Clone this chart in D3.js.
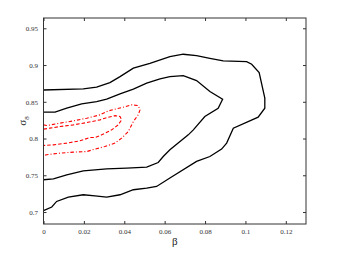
<!DOCTYPE html>
<html><head><meta charset="utf-8">
<script src="https://cdn.jsdelivr.net/npm/d3@7"></script>
<style>html,body{margin:0;padding:0;background:#fff;}svg{display:block;} text{-webkit-font-smoothing:antialiased;}</style>
</head><body>
<script>
const xTicks = [0, 0.02, 0.04, 0.06, 0.08, 0.1, 0.12];
const xTickLabels = ["0", "0.02", "0.04", "0.06", "0.08", "0.1", "0.12"];
const yTicks = [0.7, 0.75, 0.8, 0.85, 0.9, 0.95];
const yTickLabels = ["0.7", "0.75", "0.8", "0.85", "0.9", "0.95"];

// black 95% contour [beta, sigma8]
const black95 = [
 [0,0.866],[0.0197,0.8675],[0.0263,0.8698],[0.0329,0.8761],[0.0379,0.8842],[0.0445,0.8957],
 [0.0527,0.9024],[0.0626,0.9114],[0.0692,0.9147],[0.0758,0.9128],[0.0824,0.9092],[0.089,0.9056],
 [0.1006,0.9046],[0.1031,0.9011],[0.1068,0.8897],[0.1096,0.8549],[0.1096,0.8413],[0.1063,0.8291],
 [0.094,0.8141],[0.0907,0.7938],[0.0882,0.7856],[0.0824,0.7755],[0.0758,0.7688],[0.0626,0.7462],
 [0.056,0.7348],[0.0511,0.7326],[0.0445,0.7303],[0.0379,0.7235],[0.0313,0.7204],[0.0255,0.7221],
 [0.0197,0.7235],[0.0123,0.7204],[0.0065,0.7144],[0.0041,0.7068],[0,0.7018]
];
// black 68% contour
const black68 = [
 [0,0.8359],[0.0057,0.8359],[0.0115,0.8413],[0.0189,0.8471],[0.0263,0.8503],[0.0313,0.8535],
 [0.0379,0.8607],[0.0445,0.8671],[0.0511,0.8753],[0.0577,0.8811],[0.0626,0.8842],[0.0692,0.8856],
 [0.0758,0.8788],[0.0824,0.8639],[0.0887,0.8535],[0.0865,0.8413],[0.0799,0.8299],[0.0742,0.8118],
 [0.0717,0.805],[0.0626,0.7846],[0.0593,0.7755],[0.0568,0.7674],[0.0511,0.7611],[0.0412,0.7598],
 [0.0313,0.7588],[0.0197,0.7561],[0.0115,0.7507],[0.0049,0.7452],[0,0.7439]
];
// red 95% contour
const red95 = [
 [0,0.8186],[0.0016,0.8177],[0.0082,0.8209],[0.0148,0.824],[0.0214,0.8277],[0.028,0.8322],
 [0.0321,0.8376],[0.0387,0.8421],[0.0437,0.8458],[0.0469,0.8448],[0.0478,0.839],[0.0469,0.8322],
 [0.0445,0.8231],[0.042,0.8095],[0.0387,0.8005],[0.0354,0.7938],[0.0304,0.7891],[0.0255,0.7856],
 [0.0214,0.7823],[0.0148,0.7815],[0.0082,0.7802],[0.0016,0.7779],[0,0.7769]
];
// red 68% contour
const red68 = [
 [0,0.8128],[0.0032,0.8141],[0.0082,0.8163],[0.0148,0.8186],[0.0214,0.8217],[0.028,0.8254],
 [0.0304,0.8277],[0.0354,0.8312],[0.0379,0.8299],[0.0387,0.8254],[0.037,0.8186],[0.0338,0.8118],
 [0.0288,0.805],[0.0255,0.8014],[0.023,0.8014],[0.0181,0.7969],[0.0115,0.7938],[0.0049,0.7914],[0,0.7905]
];

const W = 337, H = 253;
const L = 43.5, R = 306, T = 18, B = 224;
const x = d3.scaleLinear().domain([0, 0.13]).range([L, R]);
const y = d3.scaleLinear().domain([0.6837, 0.9640]).range([B, T]);

const svg = d3.select("body").append("svg").attr("width", W).attr("height", H)
  .style("font-family", "'Liberation Serif', 'DejaVu Serif', serif");

svg.append("defs").append("clipPath").attr("id","clip")
  .append("rect").attr("x", L).attr("y", T).attr("width", R - L).attr("height", B - T);

const line = d3.line().x(d => x(d[0])).y(d => y(d[1]));
const g = svg.append("g").attr("clip-path", "url(#clip)");
g.append("path").datum(black95).attr("d", line).attr("fill","none").attr("stroke","#000").attr("stroke-width",1.3);
g.append("path").datum(black68).attr("d", line).attr("fill","none").attr("stroke","#000").attr("stroke-width",1.3);
g.append("path").datum(red95).attr("d", line).attr("fill","none").attr("stroke","#f00").attr("stroke-width",1.1).attr("stroke-dasharray","3.5,2,1,2");
g.append("path").datum(red68).attr("d", line).attr("fill","none").attr("stroke","#f00").attr("stroke-width",1.1).attr("stroke-dasharray","3.5,2");

const axColor = "#333";
function styleAxis(sel){
  sel.attr("color", axColor);
  sel.select(".domain").remove();
  sel.selectAll(".tick line").attr("stroke", axColor);
  sel.selectAll(".tick text").attr("fill", axColor).style("font-size","7px").style("font-family","'Liberation Serif', serif");
}
svg.append("g").attr("transform",`translate(0,${B})`)
  .call(d3.axisBottom(x).tickValues(xTicks).tickFormat((d,i)=>xTickLabels[i]).tickSizeInner(-3).tickSizeOuter(0).tickPadding(5.5))
  .call(styleAxis);
svg.append("g").attr("transform",`translate(0,${T})`)
  .call(d3.axisTop(x).tickValues(xTicks).tickFormat("").tickSizeInner(-3).tickSizeOuter(0))
  .call(styleAxis);
svg.append("g").attr("transform",`translate(${L},0)`)
  .call(d3.axisLeft(y).tickValues(yTicks).tickFormat((d,i)=>yTickLabels[i]).tickSizeInner(-3).tickSizeOuter(0).tickPadding(5.5))
  .call(styleAxis);
svg.append("g").attr("transform",`translate(${R},0)`)
  .call(d3.axisRight(y).tickValues(yTicks).tickFormat("").tickSizeInner(-3).tickSizeOuter(0))
  .call(styleAxis);

svg.append("rect").attr("x", L).attr("y", T).attr("width", R - L).attr("height", B - T)
  .attr("fill","none").attr("stroke", axColor).attr("stroke-width", 1);

svg.append("text").attr("x", (L + R) / 2).attr("y", 245).attr("text-anchor","middle")
  .style("font-size","11px").attr("fill","#222").text("β");

const yl = svg.append("text").attr("transform", `translate(26,${(T + B) / 2}) rotate(-90)`)
  .attr("text-anchor","middle").style("font-size","11px").attr("fill","#222");
yl.append("tspan").text("σ");
yl.append("tspan").attr("dy", 2.5).style("font-size","7px").text("8");
</script>
</body></html>
